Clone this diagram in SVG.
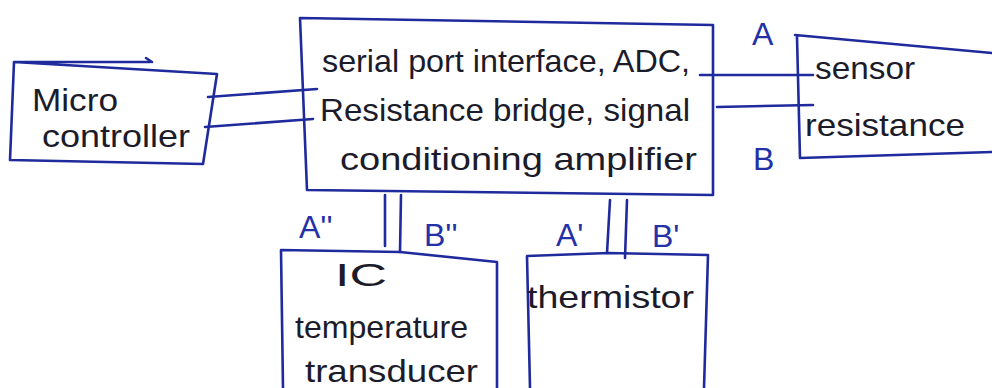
<svg xmlns="http://www.w3.org/2000/svg" width="992" height="388" viewBox="0 0 992 388">
  <style>
    .box { fill: none; stroke: #1f2a9c; stroke-width: 2.6; stroke-linejoin: round; stroke-linecap: round; }
    .wire { fill: none; stroke: #1f2a9c; stroke-width: 2.6; stroke-linecap: round; }
    .txt { font-family: "Liberation Sans", "DejaVu Sans", sans-serif; font-size: 32px; fill: #1b1b2a; }
    .pin { font-family: "Liberation Sans", "DejaVu Sans", sans-serif; font-size: 32px; fill: #2430a8; }
  </style>
  <rect width="992" height="388" fill="#ffffff"/>

  <!-- microcontroller -->
  <g id="micro">
    <path class="box" d="M14,62 L150,62 M146,58 L152,62 M14,62 L217,74 L203,164 L10,160 Z"/>
    <text class="txt" x="32" y="111" textLength="86" lengthAdjust="spacingAndGlyphs">Micro</text>
    <text class="txt" x="42" y="147" textLength="148" lengthAdjust="spacingAndGlyphs">controller</text>
  </g>

  <!-- interface / bridge / amplifier block -->
  <g id="interface">
    <path class="box" d="M300,18 L713,25 L713,195 L307,190 Z"/>
    <text class="txt" x="322" y="72" textLength="368" lengthAdjust="spacingAndGlyphs">serial port interface, ADC,</text>
    <text class="txt" x="320" y="121" textLength="370" lengthAdjust="spacingAndGlyphs">Resistance bridge, signal</text>
    <text class="txt" x="340" y="170" textLength="357" lengthAdjust="spacingAndGlyphs">conditioning amplifier</text>
  </g>

  <!-- sensor resistance -->
  <g id="sensor">
    <path class="box" d="M795,35 L992,53 M797,37 L800,158 L992,152"/>
    <text class="txt" x="815" y="79" textLength="100" lengthAdjust="spacingAndGlyphs">sensor</text>
    <text class="txt" x="805" y="136" textLength="160" lengthAdjust="spacingAndGlyphs">resistance</text>
  </g>

  <!-- IC temperature transducer -->
  <g id="ic">
    <path class="box" d="M283,388 L281,250 L400,252 L497,262 L497,388"/>
    <text class="txt" x="335" y="286" textLength="52" lengthAdjust="spacingAndGlyphs">IC</text>
    <text class="txt" x="295" y="338" textLength="173" lengthAdjust="spacingAndGlyphs">temperature</text>
    <text class="txt" x="305" y="382" textLength="173" lengthAdjust="spacingAndGlyphs">transducer</text>
  </g>

  <!-- thermistor -->
  <g id="thermistor">
    <path class="box" d="M530,388 L527,256 L608,253 L708,255 L704,388"/>
    <text class="txt" x="527" y="308" textLength="167" lengthAdjust="spacingAndGlyphs">thermistor</text>
  </g>

  <!-- connectors -->
  <g id="connectors">
    <path class="wire" d="M208,97 L317,89"/>
    <path class="wire" d="M205,127 L313,119"/>
    <path class="wire" d="M700,75 L813,75"/>
    <path class="wire" d="M717,107 L813,105"/>
    <path class="wire" d="M385,195 L385,246"/>
    <path class="wire" d="M401,195 L400,252"/>
    <path class="wire" d="M610,200 L607,253"/>
    <path class="wire" d="M627,200 L625,258"/>
  </g>

  <!-- terminal labels -->
  <g id="pins">
    <text class="pin" x="752" y="45">A</text>
    <text class="pin" x="753" y="170">B</text>
    <text class="pin" x="299" y="238">A''</text>
    <text class="pin" x="424" y="246">B''</text>
    <text class="pin" x="556" y="246">A'</text>
    <text class="pin" x="652" y="247">B'</text>
  </g>
</svg>
